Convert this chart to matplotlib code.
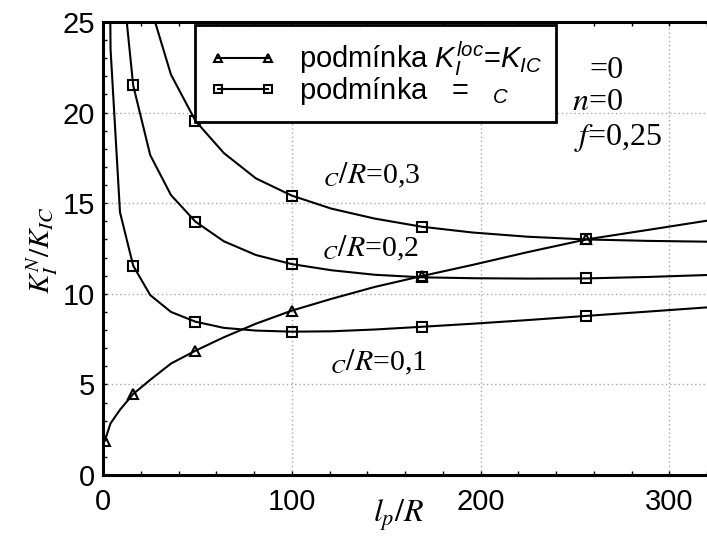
import matplotlib
matplotlib.use("Agg")
import matplotlib.pyplot as plt
from matplotlib.lines import Line2D
from matplotlib.ticker import MultipleLocator

# l_p/R sample points (line vertices), markers on every 3rd point
lpR = [1, 4, 9, 16, 25, 36, 49, 64, 81, 100, 121, 144, 169, 196, 225, 256, 289, 324]

# podminka K_I^loc = K_IC
kLoc = [1.9, 2.85, 3.6, 4.47, 5.25, 6.15, 6.86, 7.6, 8.35, 9.07, 9.72, 10.38, 10.98, 11.6, 12.3, 13.0, 13.53, 14.1]

# podminka sigma = sigma_C for three C/R values
sig01 = [60, 23.5, 14.5, 11.55, 9.93, 9.0, 8.46, 8.12, 7.97, 7.91, 7.93, 8.03, 8.18, 8.35, 8.55, 8.78, 9.02, 9.28]
sig02 = [95, 50, 28.7, 21.5, 17.66, 15.45, 13.98, 12.9, 12.14, 11.64, 11.3, 11.05, 10.91, 10.86, 10.84, 10.85, 10.93, 11.05]
sig03 = [140, 75, 45, 32, 25.9, 22.1, 19.54, 17.77, 16.37, 15.42, 14.7, 14.15, 13.7, 13.38, 13.15, 13.0, 12.92, 12.87]

curveLabels = [r"${}_{C}/R$=0,1", r"${}_{C}/R$=0,2", r"${}_{C}/R$=0,3"]
curveLabelPos = [(120, 5.8), (116, 12.09), (116.5, 16.1)]

plt.rcParams["mathtext.fontset"] = "custom"
plt.rcParams["mathtext.rm"] = "Liberation Sans"
plt.rcParams["mathtext.it"] = "Liberation Sans:italic"
plt.rcParams["font.family"] = "Liberation Sans"

fig = plt.figure(figsize=(7.07, 5.38), dpi=100)
ax = fig.add_axes([103 / 707, 1 - 475 / 538, 1 - 103 / 707, (475 - 22) / 538])

lineStyle = dict(color="black", lw=1.5, markerfacecolor="none", markeredgecolor="black",
                 markeredgewidth=1.5, markersize=7.5, markevery=3)
ax.plot(lpR, kLoc, marker="^", **lineStyle)
for vals in (sig01, sig02, sig03):
    ax.plot(lpR, vals, marker="s", **lineStyle)

ax.set_xlim(0, 320)
ax.set_ylim(0, 25)
ax.xaxis.set_major_locator(MultipleLocator(100))
ax.xaxis.set_minor_locator(MultipleLocator(20))
ax.yaxis.set_major_locator(MultipleLocator(5))
ax.yaxis.set_minor_locator(MultipleLocator(1))
ax.tick_params(which="both", direction="in", top=True, right=False, length=3, width=1)
ax.tick_params(axis="both", labelsize=21)
ax.tick_params(axis="x", pad=9)
ax.tick_params(axis="y", pad=6)
ax.grid(True, which="major", color="#a8a8a8", linestyle=(0, (1, 2)), lw=1)
for side in ("left", "bottom", "top"):
    ax.spines[side].set_linewidth(2.2)
ax.spines["right"].set_visible(False)

ax.set_xlabel(r"$l_p/R$", fontsize=23, math_fontfamily="stix")
ax.xaxis.set_label_coords(0.49, -0.05)
ax.set_ylabel(r"$K_I^N/K_{IC}$", fontsize=21, math_fontfamily="stix", va="center")
ax.yaxis.set_label_coords(-0.1, 0.497)

for lab, (lx, ly) in zip(curveLabels, curveLabelPos):
    ax.text(lx, ly, lab, fontsize=21.5, family="Liberation Serif", math_fontfamily="stix",
            ha="left", va="baseline")

serifText = dict(fontsize=23, family="Liberation Serif", math_fontfamily="stix", ha="left", va="baseline")
ax.text(257.5, 21.9, "=0", **serifText)
ax.text(248.7, 20.14, r"$n$=0", **serifText)
ax.text(249.7, 18.2, r"$f$=0,25", **serifText)

handles = [
    Line2D([], [], color="black", lw=1.5, marker="^", markerfacecolor="none", markersize=6, markeredgewidth=1.5),
    Line2D([], [], color="black", lw=1.5, marker="s", markerfacecolor="none", markersize=6, markeredgewidth=1.5),
]
labels = [r"podmínka $K_I^{loc}$=$K_{IC}$", r"podmínka   =   ${}_{C}$"]
leg = ax.legend(handles, labels, loc="upper left", bbox_to_anchor=(195 / 707, 1 - 25 / 538),
                bbox_transform=fig.transFigure, fontsize=21, frameon=True, fancybox=False,
                numpoints=2, handlelength=2.3, handletextpad=0.75, borderpad=0.5,
                labelspacing=-0.1, borderaxespad=0)
leg.get_frame().set_edgecolor("black")
leg.get_frame().set_linewidth(2)
leg.get_frame().set_alpha(1)

plt.savefig("out.png", dpi=100)
